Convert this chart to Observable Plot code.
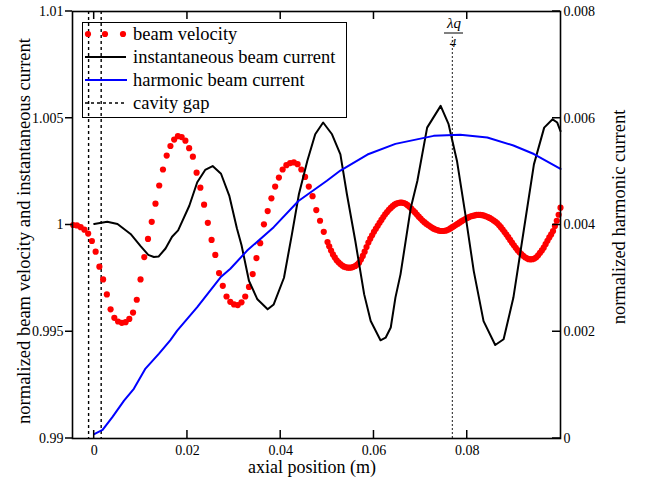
<!DOCTYPE html>
<html><head><meta charset="utf-8">
<script src="https://cdn.jsdelivr.net/npm/d3@7"></script>
<script src="https://cdn.jsdelivr.net/npm/@observablehq/plot@0.6"></script>
<style>body{margin:0;background:#fff}#chart{width:648px;height:481px}</style>
</head><body><div id="chart"></div>
<script>
// ---- data ----
// beam velocity, coarse sampling (first part)
const velocityStartA = -0.0045, velocityStepA = 0.000802;
const velocityA = [
1.00000,0.99998,0.99990,0.99978,0.99960,0.99925,0.99875,0.99805,0.99745,0.99675,
0.99605,0.99565,0.99548,0.99542,0.99545,0.99560,0.99590,0.99650,0.99745,0.99850,
0.99935,1.00015,1.00100,1.00185,1.00260,1.00325,1.00370,1.00400,1.00416,1.00412,
1.00395,1.00360,1.00320,1.00245,1.00175,1.00095,1.00010,0.99930,0.99860,0.99775,
0.99715,0.99665,0.99640,0.99628,0.99625,0.99638,0.99665,0.99710,0.99770,0.99845,
0.99915,1.00003,1.00065,1.00125,1.00180,1.00222,1.00260,1.00280,1.00290,1.00293,
1.00285,1.00260,1.00225,1.00180,1.00135,1.00070,1.00020,0.99968,0.99920];
// beam velocity, dense sampling (second part)
const velocityStartB = 0.0504, velocityStepB = 0.0004;
const velocityB = [
0.99900,0.99880,0.99862,0.99848,0.99835,0.99825,0.99817,0.99810,0.99805,0.99802,
0.99800,0.99800,0.99801,0.99804,0.99808,0.99815,0.99823,0.99838,0.99855,0.99875,
0.99897,0.99918,0.99936,0.99952,0.99968,0.99982,0.99996,1.00010,1.00024,1.00037,
1.00050,1.00061,1.00071,1.00080,1.00088,1.00095,1.00100,1.00103,1.00105,1.00105,
1.00103,1.00099,1.00093,1.00085,1.00077,1.00068,1.00059,1.00049,1.00039,1.00030,
1.00021,1.00013,1.00006,1.00000,0.99994,0.99988,0.99983,0.99979,0.99976,0.99973,
0.99972,0.99972,0.99973,0.99975,0.99979,0.99984,0.99990,0.99995,1.00001,1.00006,
1.00012,1.00018,1.00023,1.00028,1.00033,1.00037,1.00041,1.00043,1.00045,1.00047,
1.00047,1.00047,1.00046,1.00044,1.00041,1.00037,1.00033,1.00028,1.00022,1.00016,
1.00009,1.00000,0.99990,0.99979,0.99967,0.99955,0.99943,0.99930,0.99917,0.99905,
0.99893,0.99882,0.99872,0.99864,0.99856,0.99849,0.99844,0.99840,0.99839,0.99840,
0.99843,0.99849,0.99858,0.99869,0.99881,0.99894,0.99910,0.99926,0.99942,0.99956,
0.99972,0.99995,1.00020,1.00048,1.00081];

const currentX = [0.0000,0.0028,0.0050,0.0078,0.0100,0.0116,0.0128,0.0138,0.0153,0.0167,
0.0180,0.0204,0.0221,0.0238,0.0254,0.0272,0.0290,0.0306,0.0316,0.0332,
0.0350,0.0372,0.0385,0.0407,0.0424,0.0439,0.0457,0.0474,0.0491,0.0510,
0.0528,0.0542,0.0560,0.0579,0.0593,0.0614,0.0625,0.0636,0.0646,0.0657,
0.0679,0.0693,0.0714,0.0743,0.0760,0.0778,0.0796,0.0814,0.0835,0.0860,
0.0878,0.0899,0.0921,0.0943,0.0965,0.0983,0.0993,0.1000];
const currentY = [1.00005,1.00015,1.00005,0.99958,0.99900,0.99860,0.99850,0.99852,0.99890,0.99945,
0.99975,1.00090,1.00200,1.00258,1.00276,1.00240,1.00135,0.99985,0.99905,0.99738,
0.99652,0.99605,0.99628,0.99753,0.99956,1.00144,1.00300,1.00425,1.00480,1.00425,
1.00331,1.00144,0.99925,0.99675,0.99550,0.99460,0.99472,0.99520,0.99660,0.99770,
1.00081,1.00206,1.00456,1.00558,1.00472,1.00300,1.00050,0.99784,0.99550,0.99438,
0.99465,0.99660,0.99972,1.00284,1.00456,1.00495,1.00480,1.00440];

const harmonicX = [0.0000,0.0018,0.0039,0.0064,0.0085,0.0110,0.0139,0.0163,0.0178,0.0221,
0.0271,0.0292,0.0328,0.0385,0.0438,0.0499,0.0528,0.0586,0.0646,0.0728,
0.0785,0.0843,0.0899,0.0943,0.1000];
const harmonicY = [0.00008,0.00016,0.00040,0.00071,0.00093,0.00131,0.00159,0.00184,0.00202,0.00246,
0.00302,0.00318,0.00352,0.00396,0.00445,0.00483,0.00502,0.00532,0.00552,0.00567,
0.00569,0.00564,0.00549,0.00533,0.00505];

const cavityGap = [-0.0012, 0.0015];
const lambdaQ4 = 0.0768;
const lambdaLineTop = 1.0088;

const xTicks = [0, 0.02, 0.04, 0.06, 0.08];
const xTickLabels = ["0", "0.02", "0.04", "0.06", "0.08"];
const leftTicks = [0.99, 0.995, 1, 1.005, 1.01];
const leftTickLabels = ["0.99", "0.995", "1", "1.005", "1.01"];
const rightTicks = [0, 0.002, 0.004, 0.006, 0.008];
const rightTickLabels = ["0", "0.002", "0.004", "0.006", "0.008"];
const seriesNames = ["beam velocity", "instantaneous beam current", "harmonic beam current", "cavity gap"];

// ---- build ----
const yDomain = [0.99, 1.01], rDomain = [0, 0.008];
const toLeft = v => yDomain[0] + (v - rDomain[0]) * (yDomain[1] - yDomain[0]) / (rDomain[1] - rDomain[0]);
const velData = velocityA.map((v, i) => ({x: velocityStartA + i * velocityStepA, y: v}))
  .concat(velocityB.map((v, i) => ({x: velocityStartB + i * velocityStepB, y: v})));
const curData = currentX.map((x, i) => ({x, y: currentY[i]}));
const harData = harmonicX.map((x, i) => ({x, y: toLeft(harmonicY[i])}));
const rightPos = rightTicks.map(toLeft);
const font = "'Liberation Serif', 'Times New Roman', serif";

const plot = Plot.plot({
  width: 648, height: 481,
  marginLeft: 72, marginRight: 88, marginTop: 11, marginBottom: 43,
  style: {fontFamily: font, fontSize: "14px", color: "#000", background: "#fff", overflow: "visible"},
  x: {domain: [-0.00465, 0.1]},
  y: {domain: yDomain},
  marks: [
    Plot.ruleX(cavityGap, {stroke: "#000", strokeWidth: 1.4, strokeDasharray: "3,3"}),
    Plot.ruleX([lambdaQ4], {y1: yDomain[0], y2: lambdaLineTop, stroke: "#000", strokeWidth: 0.9, strokeDasharray: "2,2"}),
    Plot.dot(velData, {x: "x", y: "y", r: 3.1, fill: "#ff0000", stroke: "none"}),
    Plot.line(curData, {x: "x", y: "y", stroke: "#000", strokeWidth: 2}),
    Plot.line(harData, {x: "x", y: "y", stroke: "#0000ff", strokeWidth: 2}),
    Plot.frame({stroke: "#000", strokeWidth: 1.6}),
    Plot.axisX(xTicks, {anchor: "bottom", tickSize: 0, tickPadding: 7,
      tickFormat: d => xTickLabels[xTicks.indexOf(d)], label: null}),
    Plot.axisY(leftTicks, {anchor: "left", tickSize: 0, tickPadding: 9,
      tickFormat: d => leftTickLabels[leftTicks.indexOf(d)], label: null}),
    Plot.axisY(rightPos, {anchor: "right", tickSize: 0, tickPadding: 3,
      tickFormat: d => rightTickLabels[rightPos.indexOf(d)], label: null})
  ]
});
document.getElementById("chart").appendChild(plot);

const xs = plot.scale("x"), ys = plot.scale("y");
const svg = d3.select(plot);
const g = svg.append("g").attr("font-family", font).attr("fill", "#000").attr("text-anchor", "start");

// tick marks (from the plot's own scales)
const [x0, x1] = xs.range, [yb, yt] = ys.range;
const tk = g.append("g").attr("stroke", "#000").attr("stroke-width", 1.5);
xTicks.forEach(v => {
  const px = xs.apply(v);
  tk.append("line").attr("x1", px).attr("x2", px).attr("y1", yb).attr("y2", yb - 8);
  tk.append("line").attr("x1", px).attr("x2", px).attr("y1", yt).attr("y2", yt + 8);
});
leftTicks.forEach(v => {
  const py = ys.apply(v);
  tk.append("line").attr("x1", x0 - 7).attr("x2", x0).attr("y1", py).attr("y2", py);
});
rightPos.forEach(v => {
  const py = ys.apply(v);
  tk.append("line").attr("x1", x1 - 8).attr("x2", x1).attr("y1", py).attr("y2", py);
});

// axis titles
g.append("text").attr("x", 312).attr("y", 473).attr("text-anchor", "middle").attr("font-size", 18).text("axial position (m)");
g.append("text").attr("transform", "translate(30,231) rotate(-90)").attr("text-anchor", "middle").attr("font-size", 18.5)
  .text("normalized beam velocity and instantaneous current");
g.append("text").attr("transform", "translate(625,217) rotate(-90)").attr("text-anchor", "middle").attr("font-size", 18.5)
  .text("normalized harmonic current");

// lambda_q / 4 annotation
g.append("text").attr("x", 454).attr("y", 28).attr("text-anchor", "middle").attr("font-size", 15).attr("font-style", "italic").text("λq");
g.append("line").attr("x1", 444).attr("x2", 463).attr("y1", 33).attr("y2", 33).attr("stroke", "#000").attr("stroke-width", 1);
g.append("text").attr("x", 453).attr("y", 47).attr("text-anchor", "middle").attr("font-size", 13).attr("font-style", "italic").text("4");

// legend
const lg = g.append("g");
lg.append("rect").attr("x", 82.5).attr("y", 22.5).attr("width", 264).attr("height", 95).attr("fill", "none").attr("stroke", "#000").attr("stroke-width", 1);
const rows = [34, 57, 80, 103];
[88, 105, 123].forEach(cx => lg.append("circle").attr("cx", cx).attr("cy", rows[0]).attr("r", 3.1).attr("fill", "#ff0000"));
lg.append("line").attr("x1", 85).attr("x2", 126).attr("y1", rows[1]).attr("y2", rows[1]).attr("stroke", "#000").attr("stroke-width", 2);
lg.append("line").attr("x1", 85).attr("x2", 127).attr("y1", rows[2]).attr("y2", rows[2]).attr("stroke", "#0000ff").attr("stroke-width", 2);
lg.append("line").attr("x1", 85).attr("x2", 125).attr("y1", rows[3]).attr("y2", rows[3]).attr("stroke", "#000").attr("stroke-width", 1.4).attr("stroke-dasharray", "3,3");
seriesNames.forEach((s, i) => lg.append("text").attr("x", 133).attr("y", rows[i]).attr("dy", "0.33em").attr("text-anchor", "start").attr("font-size", 18.5).text(s));
</script></body></html>
